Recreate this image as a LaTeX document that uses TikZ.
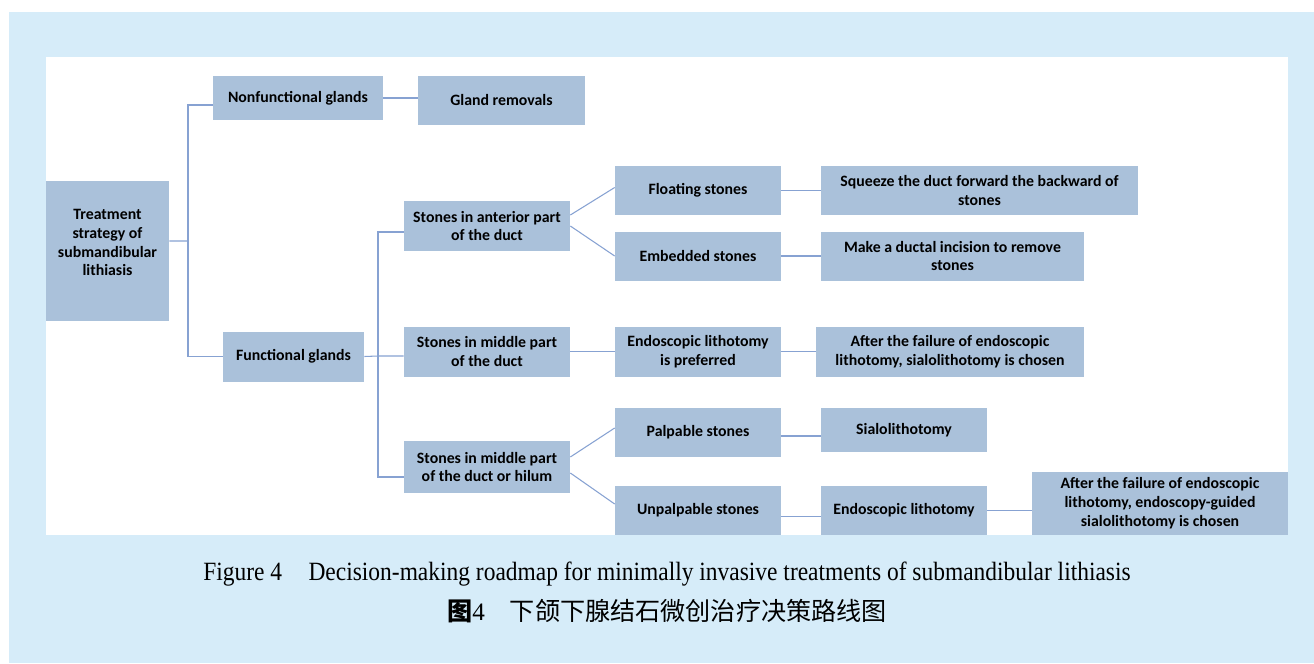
\documentclass[tikz,border=0pt]{standalone}
\usepackage{fontspec}
\setmainfont{Liberation Serif}
\newfontfamily\boxfont{Carlito}
\newfontfamily\capfont{Liberation Serif}[FakeStretch=0.89]
\newfontfamily\cjk{Noto Sans CJK SC}
\usetikzlibrary{positioning, calc}
\definecolor{bgBlue}{RGB}{214,236,249}
\definecolor{boxBlue}{RGB}{170,193,218}
\definecolor{lineBlue}{RGB}{135,162,210}

\begin{document}
\begin{tikzpicture}[x=0.02cm, y=-0.02cm,
    gbox/.style={fill=boxBlue, inner sep=2pt, align=center, minimum width=3.32cm, minimum height=0.98cm, font=\boxfont\bfseries\fontsize{9}{10.8}\selectfont},
    link/.style={lineBlue, line width=0.6pt}]
  \useasboundingbox (0,0) rectangle (1314,663);
  \fill[bgBlue] (9,12) rectangle (1314,663);
  \fill[white] (46,57) rectangle (1288,535);

  % root and glands
  \node[gbox, minimum width=2.46cm, minimum height=2.8cm] (root) at (107.5,251) {Treatment\\strategy of\\submandibular\\lithiasis\\[-1pt]\mbox{}};
  \node[gbox, minimum width=3.4cm, minimum height=0.88cm] (nonf) at (298,98) {Nonfunctional glands};
  \node[gbox, minimum width=3.34cm] (removal) at (501.5,100.5) {Gland removals};
  \node[gbox, minimum width=2.82cm, minimum height=1cm] (func) at (293.5,356.5) {Functional glands};

  % stone location
  \node[gbox, minimum height=1cm] (ant) at (487,226) {Stones in anterior part\\of the duct};
  \node[gbox, minimum height=1cm] (mid) at (487,351.5) {Stones in middle part\\of the duct};
  \node[gbox, minimum height=1.04cm] (hilum) at (487,467) {Stones in middle part\\of the duct or hilum};

  % stone type and treatment
  \node[gbox] (floating) at (698,190.5) {Floating stones};
  \node[gbox] (embedded) at (698,256) {Embedded stones};
  \node[gbox, minimum width=6.34cm] (squeeze) at (979.5,190.5) {Squeeze the duct forward the backward of\\stones};
  \node[gbox, minimum width=5.26cm] (incision) at (952.5,256) {Make a ductal incision to remove\\stones};
  \node[gbox, minimum height=1cm] (endopref) at (698,351.5) {Endoscopic lithotomy\\is preferred};
  \node[gbox, minimum width=5.36cm, minimum height=1cm] (afterA) at (950,351.5) {After the failure of endoscopic\\lithotomy, sialolithotomy is chosen};
  \node[gbox] (palpable) at (698,432.5) {Palpable stones};
  \node[gbox, minimum height=0.88cm] (sialo) at (904,430) {Sialolithotomy};
  \node[gbox] (unpalpable) at (698,510.5) {Unpalpable stones};
  \node[gbox] (endo) at (904,510.5) {Endoscopic lithotomy};
  \node[gbox, minimum width=5.12cm, minimum height=1.26cm] (afterB) at (1160,503.5) {After the failure of endoscopic\\lithotomy, endoscopy-guided\\sialolithotomy is chosen};

  % tree lines
  \coordinate (forkA) at (188,241);
  \coordinate (forkB) at (378,356);
  \draw[link] ([yshift=0.2cm]root.east) -- (forkA);
  \draw[link] ([yshift=-0.14cm]nonf.west) -| (forkA) |- (func.west);
  \draw[link] (nonf.east) -- (nonf.east -| removal.west);
  \draw[link] (func.east) -- (forkB) -- (mid.west |- forkB);
  \draw[link] ([yshift=-0.12cm]ant.west) -| (forkB) |- ([yshift=-0.2cm]hilum.west);
  \draw[link] ([yshift=0.22cm]ant.east) -- ([yshift=0.06cm]floating.west);
  \draw[link] (ant.east) -- (embedded.west);
  \draw[link] (floating.east) -- (floating.east -| squeeze.west);
  \draw[link] (embedded.east) -- (embedded.east -| incision.west);
  \draw[link] (mid.east) -- (endopref.west);
  \draw[link] (endopref.east) -- (endopref.east -| afterA.west);
  \draw[link] ([yshift=0.2cm]hilum.east) -- ([yshift=0.09cm]palpable.west);
  \draw[link] ([yshift=-0.12cm]hilum.east) -- ([yshift=0.13cm]unpalpable.west);
  \draw[link] ([yshift=-0.07cm]palpable.east) -- ([yshift=-0.07cm]palpable.east -| sialo.west);
  \draw[link] ([yshift=-0.12cm]unpalpable.east) -- ([yshift=-0.12cm]endo.west);
  \draw[link] (endo.east) -- (endo.east -| afterB.west);

  % caption
  \node[font=\capfont\fontsize{15}{18}\selectfont] (capEn) at (667,574) {Figure 4\quad Decision-making roadmap for minimally invasive treatments of submandibular lithiasis};
  \node[font=\fontsize{14.3}{17}\selectfont] (capZh) at (667,611) {{\cjk\bfseries 图}4\quad{\cjk 下颌下腺结石微创治疗决策路线图}};
\end{tikzpicture}
\end{document}
